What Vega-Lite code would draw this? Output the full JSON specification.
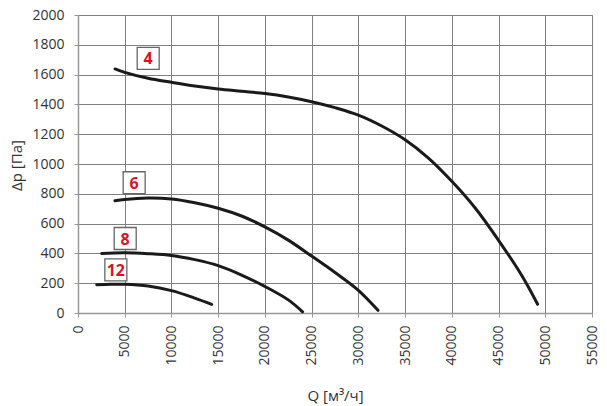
{
  "$schema": "https://vega.github.io/schema/vega-lite/v6.json",
  "width": 514,
  "height": 298,
  "autosize": "none",
  "padding": {"left": 78, "top": 15, "right": 15, "bottom": 93},
  "background": "white",
  "config": {
    "font": "Open Sans",
    "view": {"stroke": "#808080", "strokeWidth": 1},
    "axis": {
      "gridColor": "#808080",
      "gridWidth": 1,
      "gridOpacity": 1,
      "domainColor": "#999999",
      "domainWidth": 1.5,
      "tickColor": "#999999",
      "tickSize": 4,
      "labelOverlap": false,
      "labelFont": "Open Sans",
      "labelFontSize": 14,
      "labelColor": "#333333",
      "titleFont": "Open Sans",
      "titleFontSize": 15,
      "titleFontWeight": "normal",
      "titleColor": "#333333"
    }
  },
  "datasets": {
    "curves": [
      {"series": "4", "q": 3960, "dp": 1638},
      {"series": "4", "q": 5000, "dp": 1615},
      {"series": "4", "q": 7500, "dp": 1575},
      {"series": "4", "q": 10000, "dp": 1548},
      {"series": "4", "q": 12500, "dp": 1523},
      {"series": "4", "q": 15000, "dp": 1503},
      {"series": "4", "q": 17500, "dp": 1488},
      {"series": "4", "q": 20000, "dp": 1473},
      {"series": "4", "q": 22500, "dp": 1450},
      {"series": "4", "q": 25000, "dp": 1418},
      {"series": "4", "q": 27500, "dp": 1378},
      {"series": "4", "q": 30000, "dp": 1328},
      {"series": "4", "q": 32500, "dp": 1255},
      {"series": "4", "q": 35000, "dp": 1163},
      {"series": "4", "q": 37500, "dp": 1040},
      {"series": "4", "q": 40000, "dp": 884},
      {"series": "4", "q": 42500, "dp": 705},
      {"series": "4", "q": 45000, "dp": 488},
      {"series": "4", "q": 47500, "dp": 250},
      {"series": "4", "q": 49180, "dp": 59},
      {"series": "6", "q": 3950, "dp": 753},
      {"series": "6", "q": 5000, "dp": 762},
      {"series": "6", "q": 7500, "dp": 771},
      {"series": "6", "q": 10000, "dp": 765},
      {"series": "6", "q": 12500, "dp": 740},
      {"series": "6", "q": 15000, "dp": 703},
      {"series": "6", "q": 17500, "dp": 651},
      {"series": "6", "q": 20000, "dp": 578},
      {"series": "6", "q": 22500, "dp": 489},
      {"series": "6", "q": 25000, "dp": 382},
      {"series": "6", "q": 27500, "dp": 272},
      {"series": "6", "q": 30000, "dp": 152},
      {"series": "6", "q": 32100, "dp": 18},
      {"series": "8", "q": 2530, "dp": 400},
      {"series": "8", "q": 5000, "dp": 404},
      {"series": "8", "q": 7500, "dp": 398},
      {"series": "8", "q": 10000, "dp": 386},
      {"series": "8", "q": 12500, "dp": 358},
      {"series": "8", "q": 15000, "dp": 318},
      {"series": "8", "q": 17500, "dp": 255},
      {"series": "8", "q": 20000, "dp": 178},
      {"series": "8", "q": 22500, "dp": 88},
      {"series": "8", "q": 24030, "dp": 8},
      {"series": "12", "q": 2000, "dp": 190},
      {"series": "12", "q": 3500, "dp": 193},
      {"series": "12", "q": 5000, "dp": 193},
      {"series": "12", "q": 7500, "dp": 181},
      {"series": "12", "q": 10000, "dp": 150},
      {"series": "12", "q": 12500, "dp": 100},
      {"series": "12", "q": 14300, "dp": 58}
    ],
    "labels": [
      {"series": "4", "q": 7510, "dp": 1709},
      {"series": "6", "q": 6010, "dp": 874},
      {"series": "8", "q": 5050, "dp": 500},
      {"series": "12", "q": 4050, "dp": 290}
    ]
  },
  "encoding": {
    "x": {
      "field": "q", "type": "quantitative",
      "scale": {"domain": [0, 55000], "nice": false},
      "axis": {
        "values": [0, 5000, 10000, 15000, 20000, 25000, 30000, 35000, 40000, 45000, 50000, 55000],
        "format": "d",
        "labelAngle": 270,
        "labelPadding": 8,
        "title": "Q [м³/ч]",
        "titleY": 87,
        "titleBaseline": "alphabetic"
      }
    },
    "y": {
      "field": "dp", "type": "quantitative",
      "scale": {"domain": [0, 2000], "nice": false},
      "axis": {
        "values": [0, 200, 400, 600, 800, 1000, 1200, 1400, 1600, 1800, 2000],
        "format": "d",
        "labelPadding": 10,
        "title": "Δp [Па]",
        "titleX": -62,
        "titleY": 150,
        "titleAngle": 270,
        "titleBaseline": "middle",
        "titleAlign": "center"
      }
    }
  },
  "layer": [
    {
      "data": {"name": "curves"},
      "mark": {"type": "line", "color": "#1a1a1a", "strokeWidth": 3, "strokeCap": "round", "interpolate": "catmull-rom"},
      "encoding": {
        "detail": {"field": "series"}
      }
    },
    {
      "data": {"name": "labels"},
      "mark": {"type": "point", "shape": "square", "size": 484, "filled": true, "fill": "white", "stroke": "#666666", "strokeWidth": 1.3, "opacity": 1},
      "encoding": {}
    },
    {
      "data": {"name": "labels"},
      "mark": {"type": "text", "color": "#d9112b", "fontWeight": "bold", "fontSize": 16, "font": "Open Sans", "baseline": "middle", "align": "center", "dy": 1},
      "encoding": {
        "text": {"field": "series"}
      }
    }
  ]
}
